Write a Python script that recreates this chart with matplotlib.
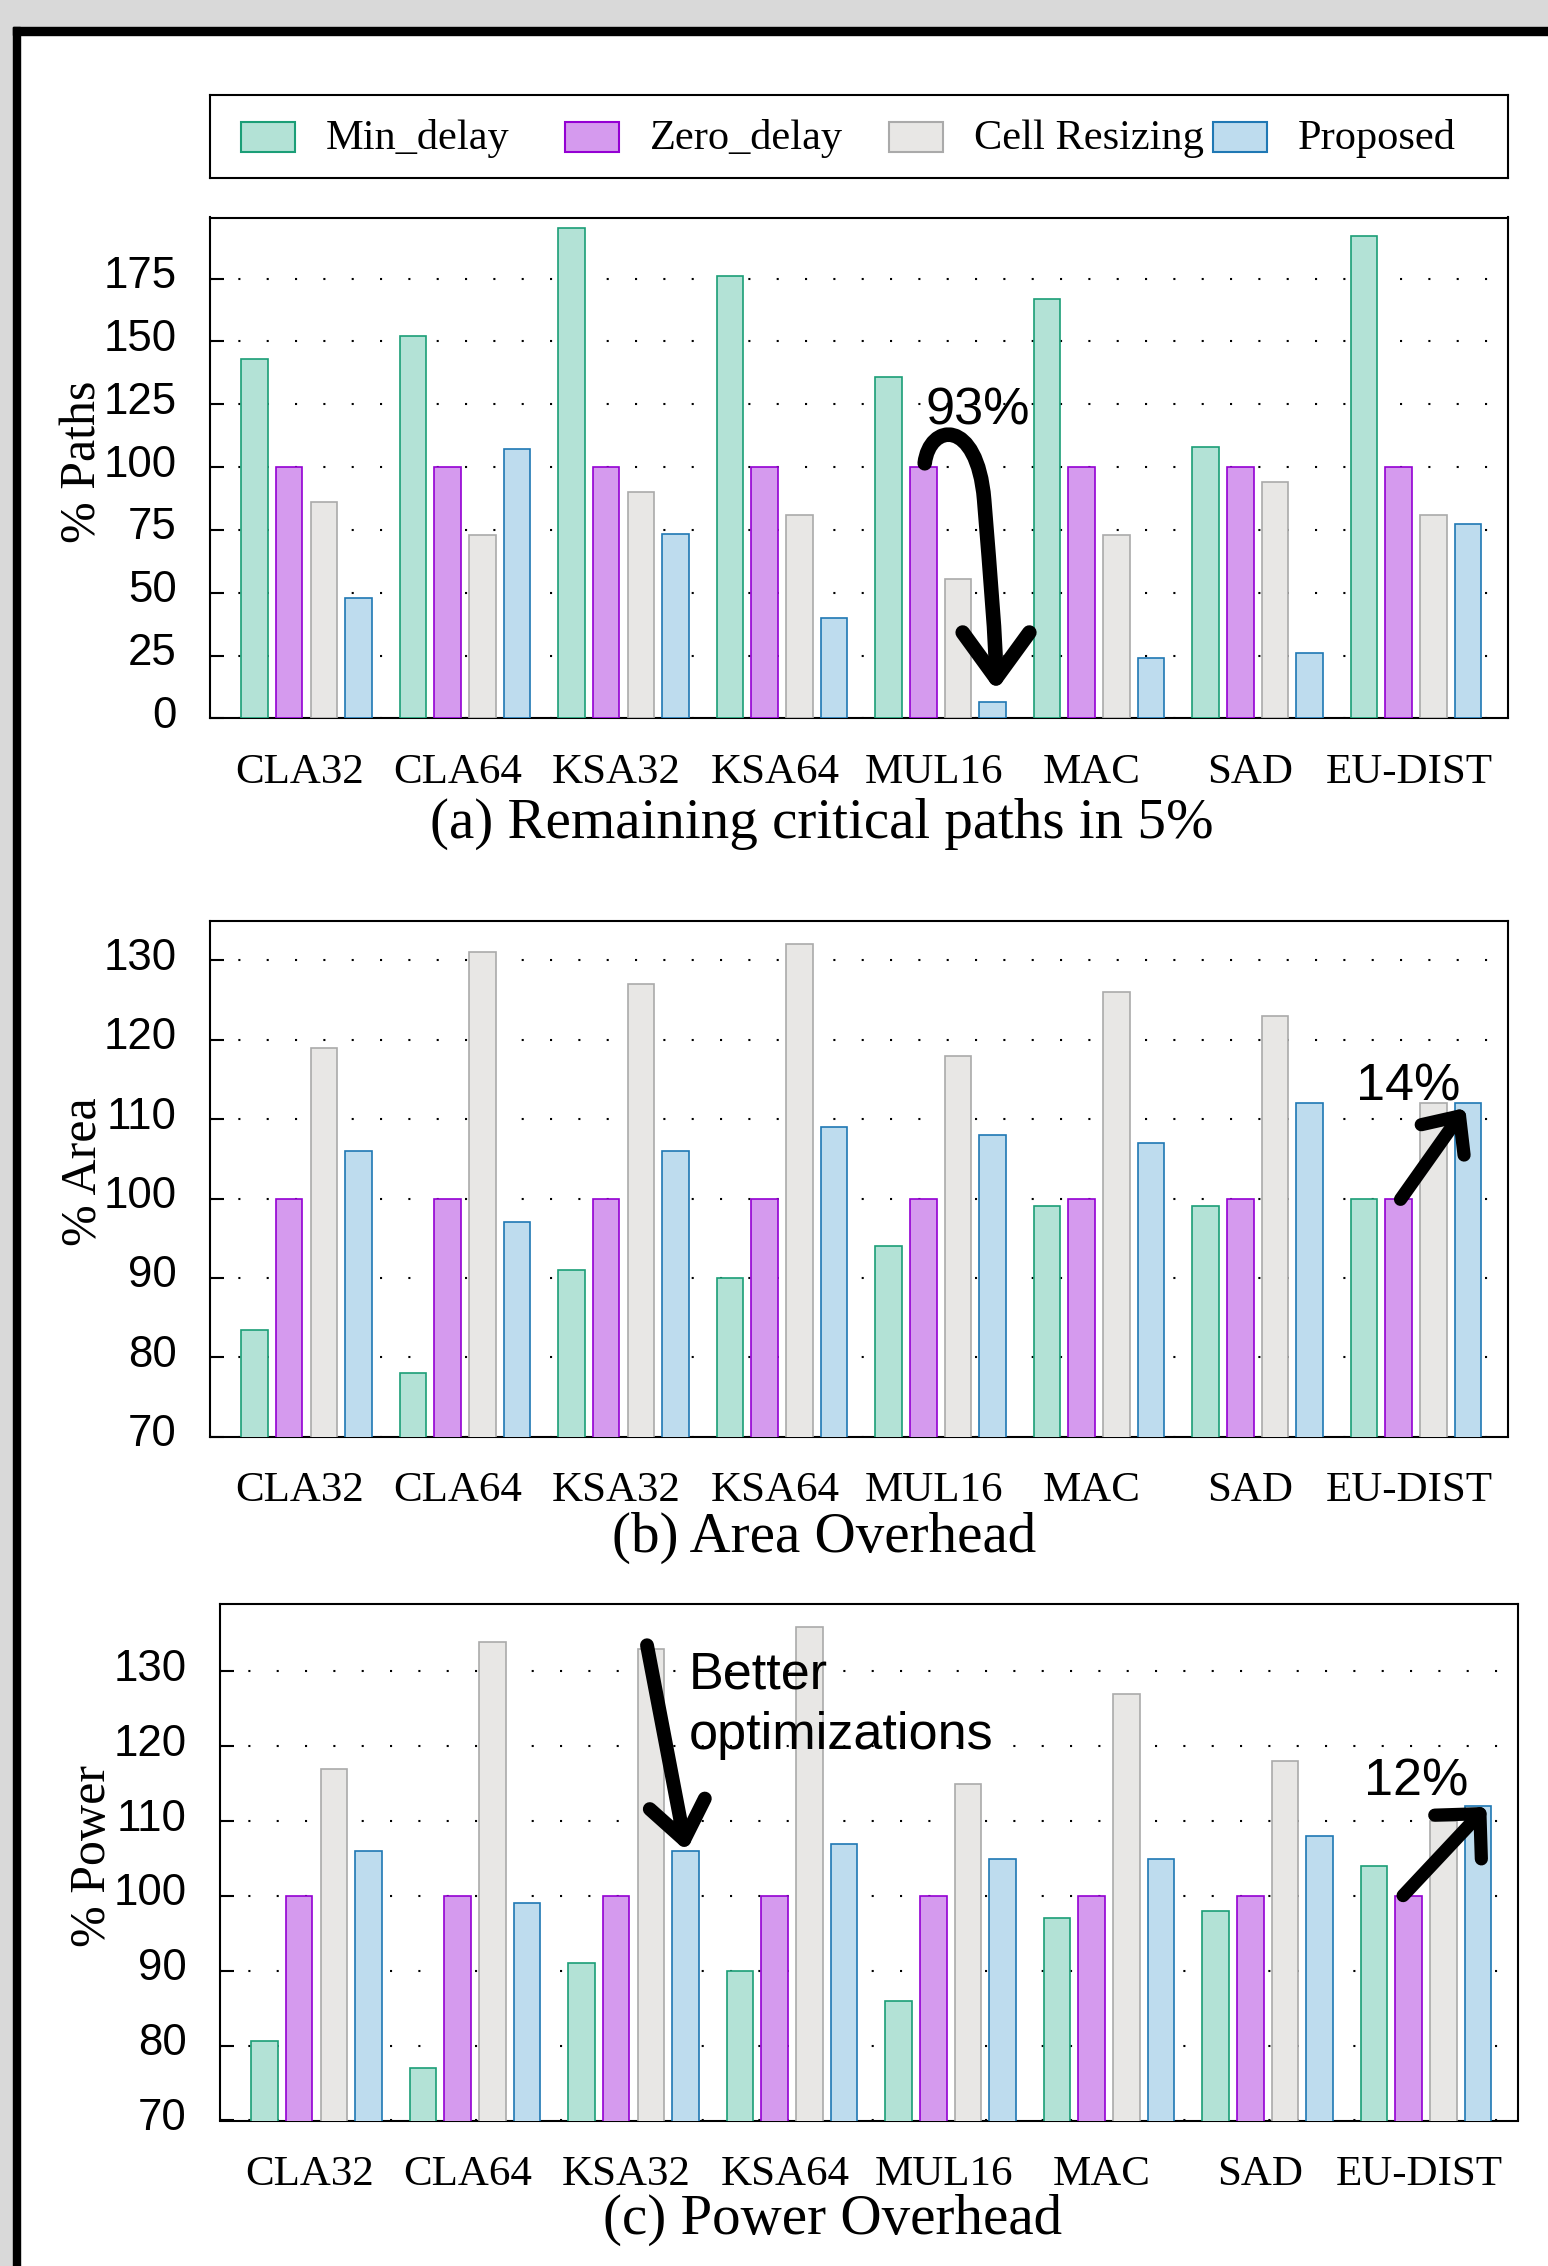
import matplotlib
matplotlib.use("Agg")
import matplotlib.pyplot as plt
from matplotlib.patches import Rectangle, FancyArrowPatch
from matplotlib.path import Path
from matplotlib.transforms import ScaledTranslation

categories = ['CLA32', 'CLA64', 'KSA32', 'KSA64', 'MUL16', 'MAC', 'SAD', 'EU-DIST']
series = ['Min_delay', 'Zero_delay', 'Cell Resizing', 'Proposed']

paths_min = [143, 152, 195, 176, 136, 167, 108, 192]
paths_zero = [100, 100, 100, 100, 100, 100, 100, 100]
paths_cell = [86, 73, 90, 81, 55.5, 73, 94, 81]
paths_prop = [48, 107, 73.5, 40, 6.5, 24, 26, 77.5]

area_min = [83.5, 78, 91, 90, 94, 99, 99, 100]
area_zero = [100, 100, 100, 100, 100, 100, 100, 100]
area_cell = [119, 131, 127, 132, 118, 126, 123, 112]
area_prop = [106, 97, 106, 109, 108, 107, 112, 112]

power_min = [80.6, 77, 91, 90, 86, 97, 98, 104]
power_zero = [100, 100, 100, 100, 100, 100, 100, 100]
power_cell = [117, 134, 133, 136, 115, 127, 118, 110]
power_prop = [106, 99, 106, 107, 105, 105, 108, 112]

fills = ['#b3e2d6', '#d59aee', '#e8e7e5', '#bedcee']
edges = ['#1b9e77', '#9400d3', '#aaaaaa', '#1f78b4']

SERIF = 'Liberation Serif'
SANS = 'Liberation Sans'

W, H = 1548, 2266
fig = plt.figure(figsize=(W / 100, H / 100), dpi=100)
fig.patch.set_facecolor('white')

# page frame: grey margin + thick black edge at top and left
fig.patches.append(Rectangle((0, 1 - 27 / H), 1, 27 / H, transform=fig.transFigure,
                             color='#d9d9d9', zorder=0))
fig.patches.append(Rectangle((0, 0), 13 / W, 1, transform=fig.transFigure,
                             color='#d9d9d9', zorder=0))
fig.patches.append(Rectangle((13 / W, 1 - 35 / H), 1, 8 / H, transform=fig.transFigure,
                             color='black', zorder=1))
fig.patches.append(Rectangle((13 / W, 0), 7 / W, 1 - 27 / H, transform=fig.transFigure,
                             color='black', zorder=1))

pitch = 0.219
width = 0.168

ylab_shift = ScaledTranslation(0, 0.065, fig.dpi_scale_trans)
xlab_shift = ScaledTranslation(-0.07, 0, fig.dpi_scale_trans)


def panel(rect, data, ylim, yticks, ylabel, caption, cap_xy):
    ax = fig.add_axes(rect)
    x = list(range(len(categories)))
    for i, vals in enumerate(data):
        xs = [g + (i - 1.5) * pitch for g in x]
        ax.bar(xs, vals, width, color=fills[i], edgecolor=edges[i], linewidth=1.2, zorder=3)
    ax.set_xlim(-0.609, 7.58)
    ax.set_ylim(*ylim)
    ax.set_yticks(yticks)
    ax.set_xticks(x)
    ax.set_xticklabels(categories, fontfamily=SERIF, fontsize=31)
    ax.tick_params(axis='x', length=0, pad=25)
    ax.tick_params(axis='y', direction='in', length=10, width=1.5, pad=24, labelsize=31.5)
    for lab in ax.get_yticklabels():
        lab.set_fontfamily(SANS)
        lab.set_transform(lab.get_transform() + ylab_shift)
    for lab in ax.get_xticklabels():
        lab.set_transform(lab.get_transform() + xlab_shift)
    ax.yaxis.grid(True, linestyle=(0, (1, 12.6)), linewidth=1.5, color='black', zorder=0)
    ax.set_axisbelow(True)
    for s in ax.spines.values():
        s.set_linewidth(1.5)
    ax.set_ylabel(ylabel, fontfamily=SERIF, fontsize=36, ha='center', va='center')
    ax.yaxis.set_label_coords(-0.098, 0.513)
    fig.text(cap_xy[0], cap_xy[1], caption, fontfamily=SERIF, fontsize=41,
             ha='center', va='center')
    return ax


ax1 = panel([210 / W, 1 - 718.4 / H, 1298 / W, 500.9 / H],
            [paths_min, paths_zero, paths_cell, paths_prop],
            (0, 199.3), range(0, 176, 25), '% Paths',
            '(a) Remaining critical paths in 5%', (822 / W, 1 - 824 / H))
ax2 = panel([210 / W, 1 - 1436.8 / H, 1298 / W, 516.2 / H],
            [area_min, area_zero, area_cell, area_prop],
            (70, 135), range(70, 131, 10), '% Area',
            '(b) Area Overhead', (824 / W, 1 - 1538 / H))
ax3 = panel([220 / W, 1 - 2120.5 / H, 1298 / W, 516.4 / H],
            [power_min, power_zero, power_cell, power_prop],
            (70, 139), range(70, 131, 10), '% Power',
            '(c) Power Overhead', (832.5 / W, 1 - 2220 / H))

# legend box
axl = fig.add_axes([210 / W, 1 - 178 / H, 1298 / W, 83 / H])
axl.set_xlim(0, 1298)
axl.set_ylim(0, 83)
axl.set_xticks([])
axl.set_yticks([])
for s in axl.spines.values():
    s.set_linewidth(1.5)
for i, name in enumerate(series):
    x0 = 31 + 324 * i
    axl.add_patch(Rectangle((x0, 26), 54, 30, facecolor=fills[i], edgecolor=edges[i], linewidth=1.5))
    axl.text(x0 + 85, 29, name, fontfamily=SERIF, fontsize=30.5, va='baseline', ha='left')

# annotations
akw = dict(fontfamily=SANS, fontsize=37.5, ha='center', va='center', zorder=6)

ax1.text(4.237, 122.4, '93%', **akw)
hook = Path([(3.90, 101.5), (3.93, 117.5), (4.23, 120.0), (4.275, 87.0),
             (4.315, 55.1), (4.350, 31.2), (4.350, 11.0)],
            [Path.MOVETO, Path.CURVE4, Path.CURVE4, Path.CURVE4,
             Path.CURVE4, Path.CURVE4, Path.CURVE4])
ax1.add_patch(FancyArrowPatch(path=hook, arrowstyle='->, head_length=0.55, head_width=0.4',
                              mutation_scale=60, lw=10.5, color='black', zorder=6,
                              capstyle='round', joinstyle='round'))

ax2.text(6.95, 114.1, '14%', **akw)
ax2.annotate('', xy=(7.31, 111.4), xytext=(6.902, 99.9),
             arrowprops=dict(arrowstyle='->, head_length=0.5, head_width=0.45',
                             mutation_scale=42, lw=9.5, color='black',
                             shrinkA=0, shrinkB=0), zorder=6)

ax3.text(2.35, 125.5, 'Better\noptimizations', fontfamily=SANS, fontsize=37.5,
         ha='left', va='center', linespacing=1.3, zorder=6)
ax3.annotate('', xy=(2.333, 106.0), xytext=(2.085, 133.5),
             arrowprops=dict(arrowstyle='->, head_length=0.55, head_width=0.42',
                             mutation_scale=48, lw=10, color='black',
                             shrinkA=0, shrinkB=0), zorder=6)

ax3.text(6.94, 115.2, '12%', **akw)
ax3.annotate('', xy=(7.38, 111.9), xytext=(6.855, 100.05),
             arrowprops=dict(arrowstyle='->, head_length=0.5, head_width=0.5',
                             mutation_scale=46, lw=9.5, color='black',
                             shrinkA=0, shrinkB=0), zorder=6)

fig.savefig('out.png', dpi=100, facecolor=fig.get_facecolor())
